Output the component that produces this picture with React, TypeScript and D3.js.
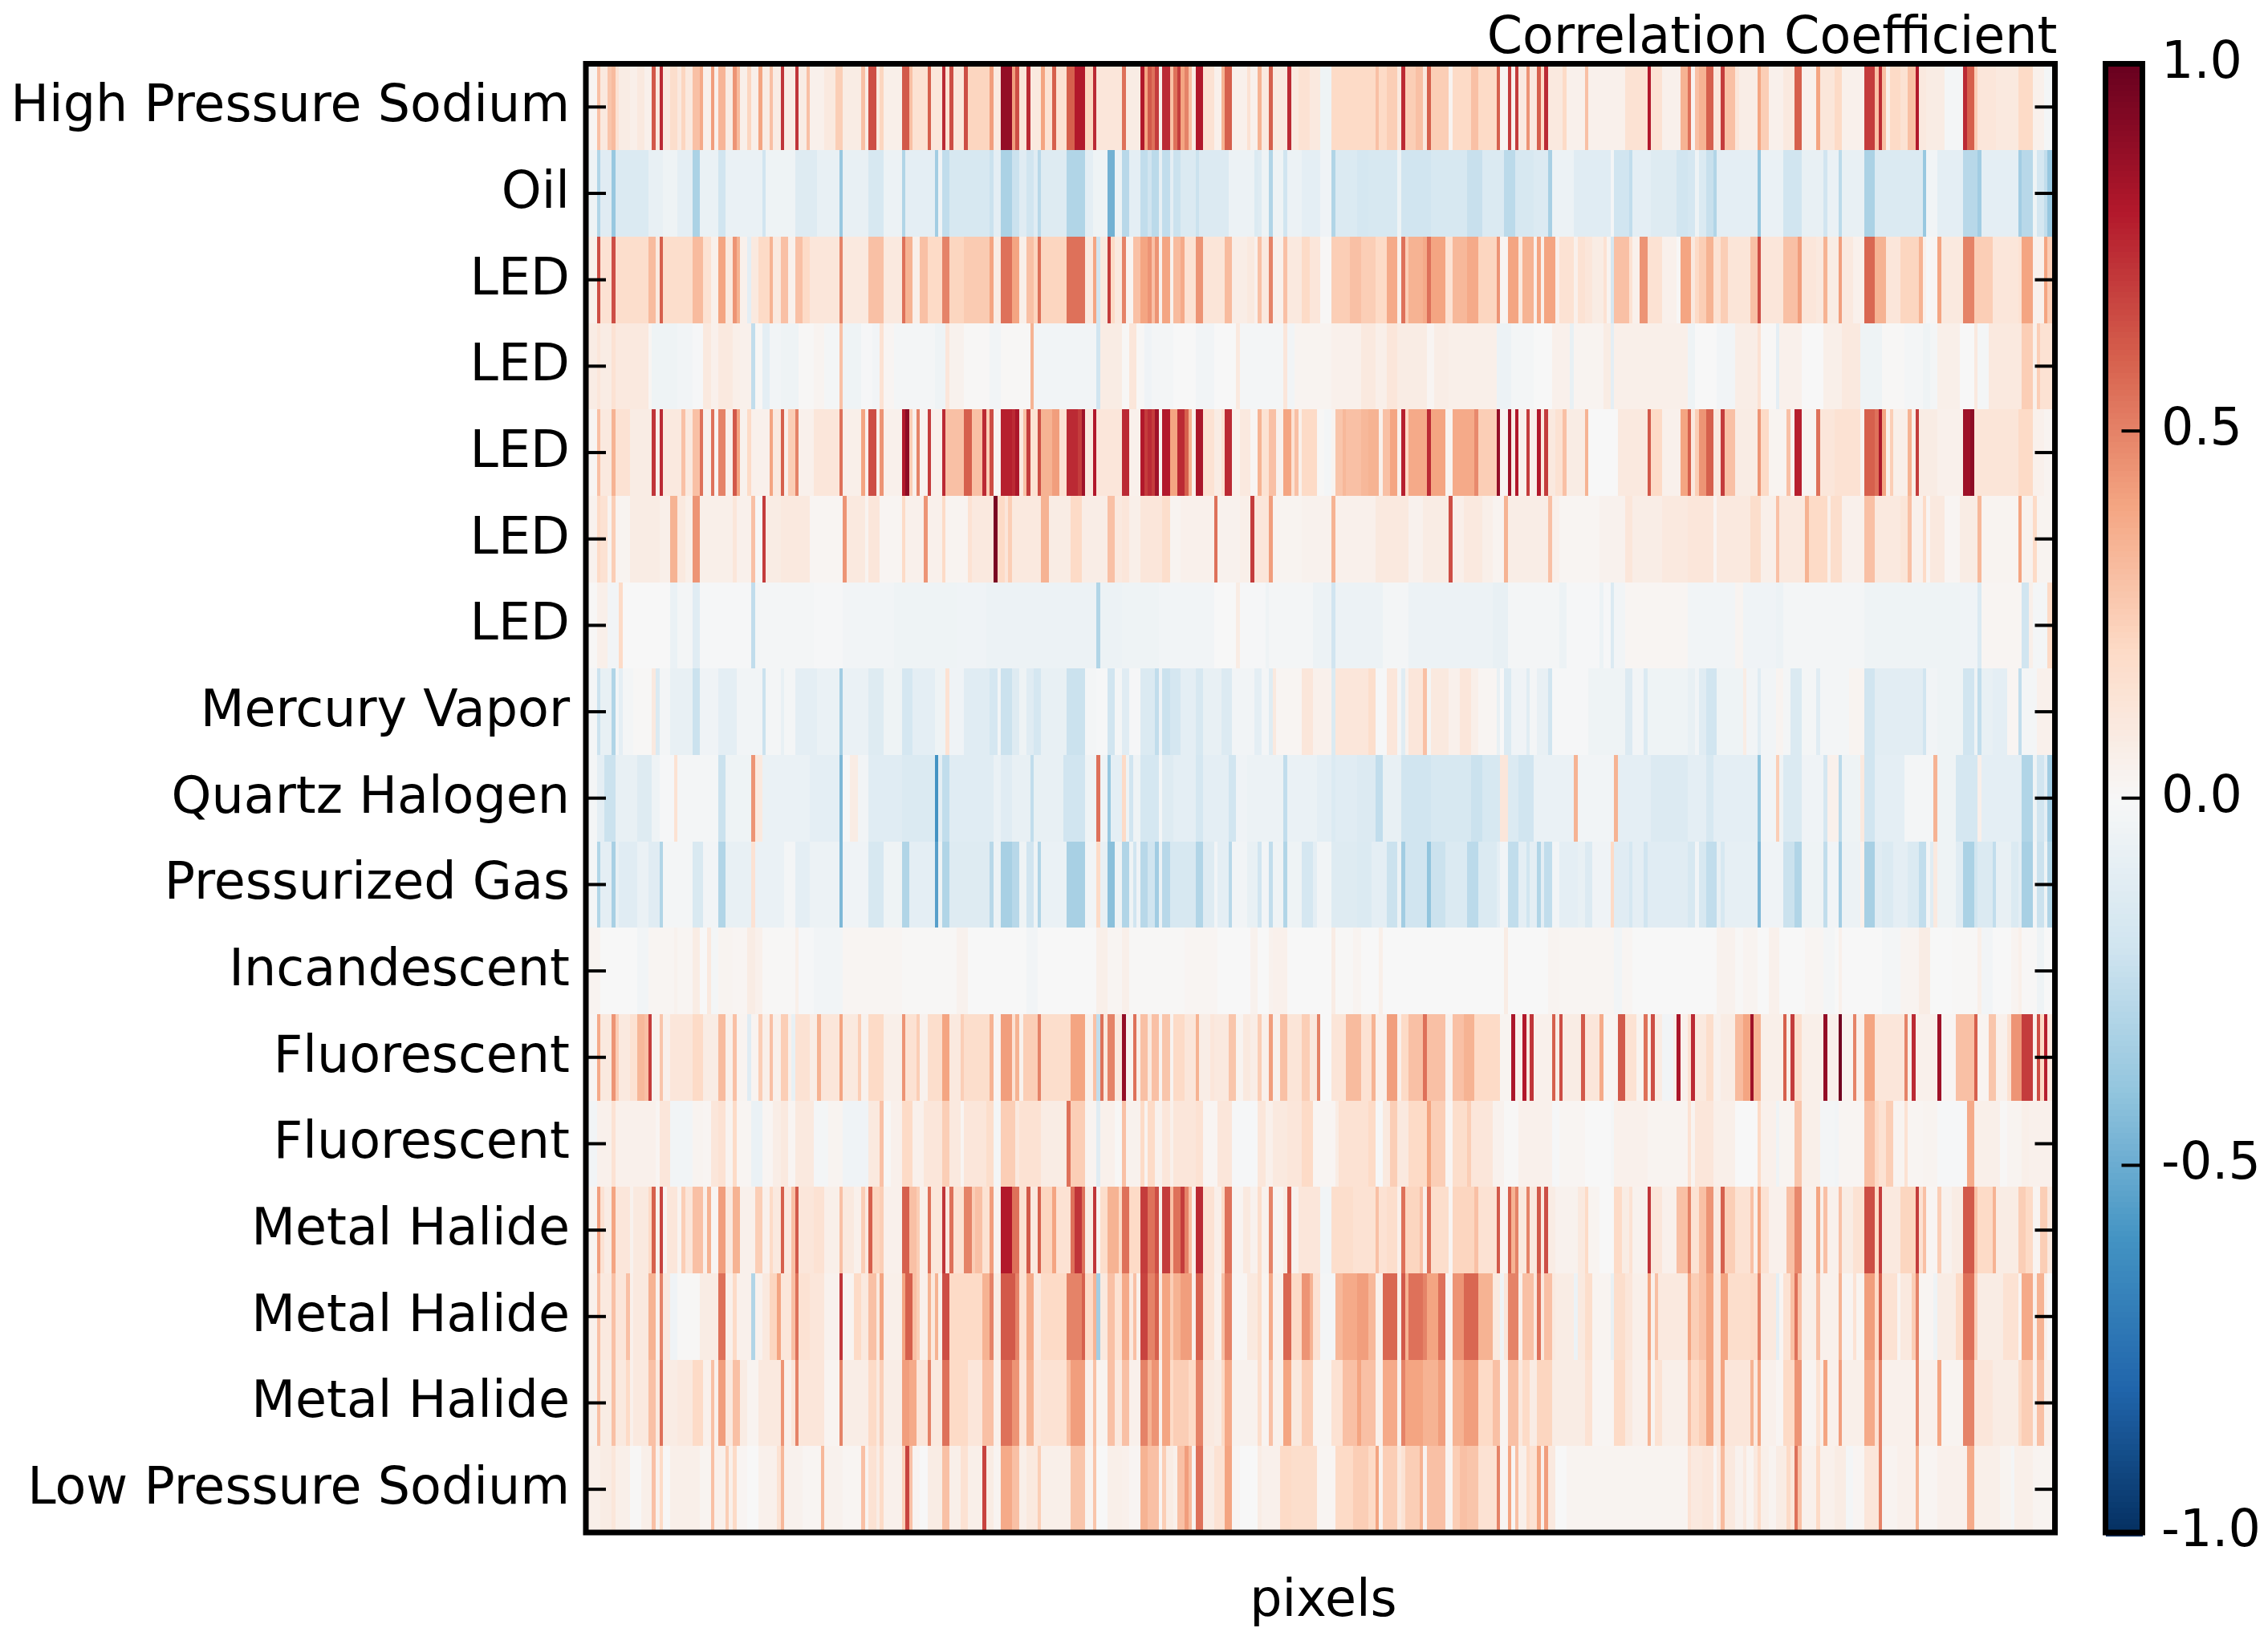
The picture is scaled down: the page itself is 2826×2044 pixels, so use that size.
import React from "react";
import * as d3 from "d3";

// Each row: flat pairs of (first column of a run, correlation x 100).
const highPressureSodium = [0,2,3,30,4,10,6,28,7,32,8,15,9,8,12,6,14,10,16,5,18,62,19,10,20,75,21,10,23,18,25,10,26,22,27,10,29,30,31,38,32,5,34,42,35,5,36,34,38,8,40,45,41,32,42,6,44,22,45,6,47,40,48,8,50,30,51,8,53,72,54,8,57,72,58,8,60,30,61,5,65,10,68,25,70,8,75,30,76,8,77,65,79,10,80,22,81,6,86,62,88,30,89,15,93,60,94,12,97,75,98,15,99,65,100,12,103,65,104,22,110,42,111,10,113,88,116,42,117,65,118,12,120,75,121,10,124,40,125,15,127,60,128,15,131,60,133,80,136,22,138,75,139,12,146,55,147,8,151,80,152,40,153,62,154,55,155,70,156,5,157,75,159,30,160,55,161,70,162,40,163,50,164,30,165,8,166,80,168,15,171,5,173,35,174,60,176,5,180,15,181,5,183,35,184,10,186,60,187,10,191,75,192,10,194,15,197,10,200,-5,203,20,215,30,216,20,218,25,221,10,222,75,223,25,226,30,228,10,229,60,230,25,235,3,236,20,241,30,243,20,248,60,249,2,251,70,252,5,253,70,254,10,256,45,257,10,259,60,260,20,261,75,262,10,266,20,267,5,272,30,273,5,283,15,289,80,290,15,293,5,298,35,300,55,301,3,302,30,303,35,305,60,307,12,309,70,310,30,313,12,314,7,319,40,320,25,322,5,326,10,329,60,331,5,335,40,336,12,340,20,342,5,348,70,351,30,352,75,353,30,354,5,355,20,358,15,360,30,362,80,363,10,365,8,370,-2,375,75,376,60,378,25,379,12,384,10,390,20,394,5,397,-2];
const oil = [0,-5,3,-30,4,-12,7,-38,8,-15,17,-8,21,-5,25,-10,29,-32,31,-7,36,-20,38,-7,48,-20,49,-5,57,-13,63,-8,69,-38,70,-8,77,-17,81,-6,86,-30,87,-10,95,-35,96,-4,97,-25,99,-17,110,-22,111,-10,113,-32,116,-22,118,-12,120,-20,122,-12,123,-28,124,-13,131,-30,136,-10,138,-5,142,-48,144,-6,146,-28,148,-10,151,-25,153,-20,154,-27,156,-8,157,-25,159,-10,160,-22,162,-15,166,-22,167,-14,175,-6,182,-15,183,-13,184,-5,186,-30,187,-5,190,-20,191,-6,195,-10,200,-4,203,-30,204,-15,210,-18,213,-17,221,-5,222,-20,230,-17,240,-23,244,-15,250,-27,253,-17,258,-14,262,-33,263,-6,269,-12,279,-2,280,-20,284,-25,285,-10,290,-13,297,-20,300,-18,302,-5,303,-15,305,-23,307,-30,308,-10,319,-40,320,-7,326,-20,331,-8,337,-20,338,-7,341,-27,342,-8,348,-32,351,-15,364,-38,365,-3,368,-10,375,-28,379,-35,380,-10,390,-35,391,-28,394,-5,395,-18,397,-25,398,-38];
const ledA = [0,5,3,65,4,15,7,65,8,18,17,32,19,10,20,60,21,18,29,32,32,15,34,5,36,40,38,10,40,45,41,35,42,5,44,-10,45,10,47,20,50,35,51,10,53,30,55,5,57,30,59,20,61,12,69,50,70,10,77,30,81,10,86,55,87,35,89,6,91,30,93,20,97,50,99,22,103,26,110,40,111,8,113,55,116,40,118,6,120,30,122,22,123,55,124,22,131,55,136,10,138,40,139,-20,140,10,142,70,143,20,144,10,146,50,147,3,149,30,151,40,153,45,154,30,155,45,156,5,157,40,159,4,160,32,162,38,163,15,166,45,168,13,174,32,176,7,180,10,182,5,183,30,184,10,186,50,187,5,190,30,191,10,195,20,197,12,200,1,203,25,208,30,211,25,215,20,218,38,221,5,222,55,223,25,224,35,228,38,229,55,230,40,234,15,236,33,240,38,243,22,248,45,249,2,251,40,254,10,255,35,258,5,259,40,260,5,261,40,264,5,265,15,269,5,270,15,272,12,274,8,277,15,278,3,279,-18,280,30,284,15,285,5,287,45,289,15,293,5,297,1,298,40,300,40,301,10,302,20,303,25,305,35,307,15,309,25,311,13,317,30,319,65,320,12,326,30,330,42,331,12,335,10,337,35,338,8,341,42,342,10,345,5,348,58,351,35,354,12,358,22,363,35,364,5,365,-1,366,2,368,40,369,10,375,50,378,25,383,12,390,15,391,40,394,5,397,40,398,25];
const ledB = [0,8,3,12,4,8,7,15,8,10,17,2,18,-5,25,-3,29,-1,32,10,34,5,36,10,40,6,42,5,45,-25,46,1,48,-10,50,-3,53,-5,58,1,62,3,65,-2,69,30,70,-5,75,-1,78,-3,80,15,81,2,84,-2,95,-5,98,12,99,4,103,1,110,-3,113,1,121,35,122,-3,139,-20,140,8,146,1,148,12,150,1,152,-4,154,-2,160,0,166,-3,171,0,177,10,178,-2,190,12,191,-3,193,3,203,5,211,10,215,6,218,12,221,8,229,2,231,7,235,6,243,6,248,-6,252,-2,258,0,263,5,268,-8,269,3,277,8,279,-10,280,6,300,-5,302,0,308,-3,313,7,319,15,320,1,324,-10,325,5,331,0,337,6,342,10,347,-5,353,1,359,-2,364,-5,366,-2,368,6,374,0,378,10,379,-2,382,10,391,25,394,5,395,25,396,15];
const ledC = [0,2,3,30,4,10,7,35,8,15,12,8,18,72,19,5,20,75,21,10,26,30,27,10,29,30,31,55,32,4,34,55,35,3,36,50,38,5,40,62,41,40,42,4,44,20,45,5,50,40,51,10,53,60,54,5,55,25,57,50,58,5,62,12,69,55,70,6,75,40,76,5,77,65,79,5,80,45,81,5,86,80,87,90,88,25,89,5,90,50,91,3,93,70,94,5,97,75,98,30,103,60,105,30,108,75,109,25,110,65,111,2,113,78,116,75,117,82,118,10,119,30,120,70,121,15,123,65,124,35,127,42,129,15,131,75,134,70,135,85,136,10,138,80,139,12,146,75,148,5,151,80,152,70,153,75,154,70,155,85,156,3,157,80,159,40,161,75,163,60,164,35,165,5,166,82,168,15,171,8,173,15,174,75,176,5,178,10,181,2,183,35,184,15,186,30,188,4,190,40,192,15,193,30,194,5,195,20,199,1,201,-2,203,3,204,28,206,33,207,30,211,33,213,35,216,5,217,30,219,40,221,5,222,78,223,20,224,38,229,75,230,40,234,3,236,38,242,48,243,25,248,88,249,2,251,85,252,8,253,80,254,5,256,70,257,5,259,80,260,10,261,70,262,10,264,15,266,30,267,8,272,35,273,0,281,10,289,62,290,20,293,5,298,40,300,60,301,10,302,25,303,45,305,60,307,10,309,70,310,30,313,8,319,45,320,20,322,3,327,30,328,3,329,78,331,3,335,55,336,12,340,15,347,3,348,60,351,55,352,82,353,40,354,5,355,25,356,6,360,35,361,6,362,70,363,8,368,5,375,85,377,90,378,13,390,20,394,5,397,3];
const ledD = [0,4,3,20,4,15,6,3,7,25,8,3,12,8,20,6,23,35,25,10,27,6,29,45,31,6,40,12,41,5,45,30,46,1,48,70,49,8,53,10,61,2,70,45,71,10,76,3,77,12,80,2,86,20,87,5,92,45,93,5,97,20,98,3,104,15,105,10,111,95,112,20,114,12,115,25,116,10,124,35,126,8,132,20,135,7,142,30,144,10,146,12,148,6,151,12,157,18,159,3,162,5,171,55,172,4,178,6,181,70,182,12,186,42,187,3,195,4,203,35,204,5,215,10,224,4,228,8,235,65,236,6,239,10,244,6,247,3,250,35,251,7,262,30,263,5,265,2,276,4,283,12,285,7,293,10,300,12,307,2,308,10,317,18,320,6,324,30,325,10,332,35,333,20,338,5,339,18,342,5,348,30,351,10,358,13,360,30,361,5,364,20,365,2,366,10,370,2,374,8,379,33,380,3,390,40,391,4,394,20,395,3];
const ledE = [0,1,3,6,6,-3,9,20,10,0,23,-7,25,-2,29,-12,31,-1,45,-25,46,-2,62,-1,70,-3,84,-5,101,-4,109,-6,139,-30,140,-6,146,-5,156,-3,171,0,177,8,178,-1,185,-5,186,-2,198,-6,203,-20,204,-6,217,-2,224,-6,247,-8,251,-2,265,-6,267,-1,276,-6,277,-1,279,-15,280,-3,283,2,300,-3,313,3,315,-4,324,-6,326,-2,348,-5,374,-4,379,-15,380,2,391,-20,393,6,394,-2,398,20];
const mercuryVapor = [0,-2,3,-22,4,-8,7,-30,8,-2,9,-10,10,-2,13,1,18,10,19,-15,20,-2,23,-8,29,-22,31,-4,36,-10,41,-3,48,-22,49,-2,53,-8,54,-2,57,-10,63,-7,69,-35,70,-7,77,-13,81,-5,86,-18,89,-10,95,-5,98,15,99,-4,103,-12,110,-18,112,-3,113,-22,116,-13,118,-5,120,-12,122,-18,124,-8,131,-22,136,-2,139,-1,142,-20,144,-2,146,-12,148,-1,151,-15,155,-25,156,-4,157,-22,159,-18,162,-10,166,-17,168,-8,173,-14,176,-3,182,-10,184,-2,186,-12,187,10,188,2,195,12,198,5,203,-15,204,12,213,18,215,-1,218,12,221,-2,222,-12,223,4,224,12,228,30,229,-2,230,10,235,5,238,12,241,6,243,2,248,-8,249,0,250,-15,252,-4,256,-12,257,-2,259,-8,262,-20,263,-1,273,-5,283,-14,285,-3,288,-15,289,-5,300,-8,302,-3,303,-12,305,-20,308,-5,315,8,316,-3,319,-12,320,-3,324,3,326,-2,328,-15,331,-2,335,-12,336,-2,344,3,348,-20,351,-11,364,-20,365,-3,368,-5,375,-20,378,-5,379,-25,380,-8,383,-10,387,2,390,-25,391,-2,395,5];
const quartzHalogen = [0,-2,3,-10,5,-22,8,-8,14,-13,18,-5,20,-1,24,15,25,-2,36,-22,38,-5,45,45,46,10,48,-7,61,-10,69,-45,70,-1,72,8,74,-3,77,-12,86,-15,95,-60,96,-10,97,-25,99,-12,111,-7,113,-12,116,-8,121,-25,122,-8,130,-20,136,-5,139,55,140,-5,142,-38,143,-10,146,20,147,-5,148,-20,149,-5,151,-18,156,-2,157,-13,160,-10,166,-18,168,-10,175,-20,177,-4,180,-6,190,-25,191,-7,199,-10,203,-15,204,-12,210,-14,215,-25,217,-8,222,-20,230,-17,241,-22,244,-17,249,12,251,-15,254,-20,258,-7,269,35,270,-3,280,35,281,-10,290,-14,300,-10,305,-17,307,-10,319,-40,320,-3,324,25,325,-5,326,-15,331,-4,337,-18,338,5,341,-27,342,-5,347,10,348,-20,351,-10,359,-2,367,35,368,-5,373,-18,379,6,380,-10,391,-30,394,-5,395,-20,397,-10,398,-35];
const pressurizedGas = [0,-2,3,-30,4,-10,7,-33,8,-8,9,-12,14,-7,17,-12,20,-30,21,-2,29,-16,32,-3,36,-30,38,-8,45,15,46,-7,54,-2,57,-10,61,-6,69,-45,70,-4,77,-17,81,-5,86,-30,88,-10,95,-55,96,-5,97,-30,99,-13,110,-28,111,-6,113,-33,116,-28,118,-5,120,-20,122,-5,123,-30,124,-7,131,-33,136,-3,139,20,140,-8,142,-42,144,-5,146,-30,148,-5,149,-20,150,-4,151,-28,153,-20,155,-35,156,-6,157,-28,159,-17,166,-30,168,-13,171,-3,172,-10,175,-28,176,-3,180,-8,183,-20,184,-3,186,-25,187,-5,190,-30,191,-5,195,-18,198,-10,199,-3,203,-13,210,-15,214,-10,218,-22,221,-6,222,-35,223,-20,229,-40,230,-22,234,-15,240,-27,243,-15,248,-10,249,-3,251,-25,254,-10,256,-20,257,-10,259,-30,260,-10,261,-25,263,-3,265,-10,270,-8,272,-14,274,-4,279,20,280,-12,284,-18,285,-10,288,-20,289,-12,300,-17,302,-3,303,-17,305,-25,308,-8,309,-17,310,-9,319,-45,320,-4,326,-22,329,-30,331,-5,337,-25,338,-3,341,-35,342,-6,347,5,348,-33,351,-12,353,-15,356,-10,360,-15,363,-25,365,-2,366,-12,367,10,368,-5,373,-12,375,-32,378,-20,379,-15,383,-25,384,-8,388,-15,390,-10,391,-33,394,-3,395,-22,397,-5,398,-30];
const incandescent = [0,3,4,0,14,-3,17,2,24,4,25,2,29,8,31,0,33,10,34,-2,36,3,40,2,44,8,46,5,48,1,57,6,58,-1,62,-3,70,2,86,1,101,4,104,0,120,-3,123,0,139,6,142,2,146,6,148,1,163,2,172,0,181,4,183,0,186,4,187,5,191,0,203,8,204,1,209,3,211,0,216,6,217,0,250,8,251,0,262,3,265,2,280,-3,282,2,285,0,300,0,308,4,313,1,315,3,319,0,322,5,325,0,332,2,337,-2,340,0,341,5,342,0,353,-2,358,3,363,8,366,0,372,1,379,6,380,-3,383,0,388,3,390,6,391,1,395,-5,397,0];
const fluorescentA = [0,2,3,38,4,10,7,45,8,25,9,10,12,15,14,33,16,30,17,70,18,4,20,28,21,5,23,12,29,20,32,8,36,32,38,5,40,30,41,3,44,-12,45,3,47,25,48,6,50,30,51,5,53,25,55,5,56,-8,57,15,61,7,63,35,64,12,69,40,70,10,74,25,75,4,77,20,81,6,86,45,87,15,90,25,91,4,93,18,97,40,99,10,102,25,103,18,110,35,111,2,113,42,116,15,117,35,118,4,119,25,123,50,124,18,132,40,136,5,138,30,139,-25,140,55,141,10,142,50,144,10,146,88,147,3,149,55,150,6,151,30,153,10,154,30,156,3,157,28,159,3,160,20,163,12,166,35,167,7,170,12,171,10,175,28,177,3,179,10,181,7,183,25,184,5,186,42,187,4,189,30,191,13,195,25,197,10,199,50,200,0,203,13,207,32,211,15,214,35,215,5,218,42,221,5,222,20,224,30,228,55,229,30,234,4,236,30,239,35,242,20,248,20,249,3,252,82,253,5,255,80,256,10,257,72,258,5,263,60,264,8,265,65,266,8,271,62,272,12,276,38,277,2,281,62,283,15,286,3,288,55,289,5,290,65,291,8,293,-3,296,6,297,82,298,5,300,15,301,75,302,10,305,18,307,4,309,8,313,32,315,40,317,85,318,35,320,6,326,60,327,6,328,70,329,18,331,6,337,88,338,5,341,97,342,3,345,50,346,5,348,40,351,12,359,50,360,5,361,75,362,5,368,85,369,2,373,30,378,60,379,3,382,28,384,5,387,15,388,45,391,70,394,5,395,65,396,20,397,78,398,10];
const fluorescentB = [0,-3,3,5,7,15,8,5,19,2,20,12,23,-3,29,3,32,2,34,12,36,15,38,3,40,20,41,2,45,-7,48,2,51,7,53,10,55,2,57,10,62,-2,66,3,70,-4,77,10,80,30,81,1,83,5,86,20,89,5,92,12,97,25,99,10,102,2,103,12,109,18,111,-2,113,25,117,10,118,15,124,8,131,55,132,25,136,3,139,-12,140,5,144,1,146,30,147,4,151,20,152,3,153,20,155,4,157,12,159,5,160,12,166,15,168,2,172,12,176,-1,183,12,185,5,187,10,191,12,195,20,198,2,204,8,205,15,213,20,215,-1,217,10,219,25,221,10,224,20,229,40,230,25,234,2,236,18,240,25,241,12,247,4,250,1,254,5,263,-1,265,2,272,0,279,-2,280,5,289,3,300,15,301,3,302,12,307,6,313,0,319,20,320,5,324,-5,325,3,329,28,331,6,336,-2,340,-3,341,2,348,30,351,20,352,15,354,25,356,3,359,15,360,2,364,3,368,-1,376,38,378,6,385,1,387,3,391,6,393,5];
const metalHalideA = [0,3,3,42,4,15,5,8,7,40,8,12,12,4,13,10,17,20,18,60,19,4,20,68,21,2,22,12,25,3,26,25,27,12,29,30,32,5,33,35,34,2,36,42,38,10,40,35,42,5,46,25,48,5,50,20,51,10,53,60,54,10,56,30,57,62,58,12,62,15,65,6,69,30,70,10,73,5,75,25,76,10,77,60,78,22,80,25,81,5,86,60,88,30,90,25,91,5,93,55,94,12,97,72,98,10,99,55,100,15,103,50,105,25,106,30,108,15,110,42,111,3,113,80,116,55,118,15,120,62,121,10,123,60,124,22,127,40,128,15,132,55,133,72,135,55,136,8,138,72,139,2,140,18,142,35,145,20,146,55,148,20,151,70,153,55,155,65,156,5,157,70,159,30,160,55,162,70,163,50,164,30,165,5,166,75,168,15,171,6,173,20,174,55,176,3,179,10,181,4,183,18,184,4,186,50,187,3,190,8,191,62,192,4,194,12,200,-3,203,18,209,15,215,30,216,15,218,18,221,5,222,55,223,22,227,30,228,5,229,55,230,18,235,2,236,22,242,30,243,15,248,62,249,2,251,60,252,35,253,50,254,10,256,50,257,10,259,62,260,10,261,65,262,8,264,4,270,10,272,20,273,3,276,0,280,20,282,8,284,15,285,4,289,72,290,12,293,5,297,30,300,50,301,15,303,30,305,45,307,10,309,60,310,25,313,15,317,30,318,5,319,40,320,15,322,5,327,30,329,48,331,5,335,40,336,5,337,30,338,5,341,30,342,8,345,15,348,65,351,20,352,70,353,10,358,22,362,70,363,15,364,30,365,2,368,25,369,4,372,8,375,62,378,30,379,20,383,35,384,8,390,25,392,20,394,3,396,25,398,10];
const metalHalideB = [0,5,3,30,4,10,7,30,8,12,11,30,12,5,13,10,17,35,19,4,20,50,21,10,23,-4,25,1,31,8,36,55,38,5,40,20,41,5,45,-30,46,4,48,10,50,22,52,40,53,12,56,30,57,55,58,15,61,12,65,4,69,72,70,3,73,20,75,10,77,30,79,10,80,40,81,6,86,40,87,60,89,30,90,25,91,5,93,35,94,10,95,35,96,5,97,65,99,20,108,35,110,50,111,8,113,62,117,50,118,15,120,38,122,10,124,20,131,50,135,60,136,20,138,35,139,-35,140,10,142,30,144,15,146,38,148,10,149,30,150,5,151,68,153,50,155,60,156,10,157,40,159,25,160,35,162,42,165,5,166,60,168,15,171,5,173,30,174,50,176,2,180,10,183,18,184,3,186,38,187,5,190,58,192,20,195,45,197,35,198,15,200,-2,204,33,206,38,210,42,213,33,215,5,217,58,221,5,222,62,223,35,224,55,228,50,229,40,232,55,234,3,236,45,239,58,243,35,247,10,249,-5,250,12,251,50,254,5,255,30,258,10,259,55,260,10,261,30,263,10,264,8,269,-6,270,10,272,18,274,3,279,-8,280,18,283,12,285,6,289,40,290,5,291,30,292,10,300,40,301,25,303,30,305,40,307,12,309,40,311,18,317,20,319,50,320,10,324,-10,325,2,326,15,328,30,329,55,330,30,331,6,335,30,336,5,341,35,342,3,345,15,346,3,348,42,351,20,352,60,353,15,357,2,358,10,361,25,362,50,363,2,367,-5,368,8,373,20,375,55,378,25,379,8,386,15,390,2,391,38,394,5,395,35,397,5,398,0];
const metalHalideC = [0,4,3,30,4,8,7,30,8,10,11,20,12,5,13,10,17,30,19,10,20,55,21,8,25,10,29,20,32,5,34,30,35,5,36,42,38,10,40,30,42,8,44,3,47,10,53,45,54,5,56,12,57,50,58,12,65,3,69,50,70,7,77,20,79,10,80,25,81,7,86,42,88,38,90,12,93,50,94,10,97,55,99,20,104,12,108,30,111,5,113,55,116,45,118,12,120,35,122,12,124,15,131,30,132,42,136,5,138,30,139,3,142,30,144,10,146,30,148,5,151,50,153,35,154,45,156,5,157,40,159,20,160,25,164,20,166,50,168,10,171,8,173,20,174,38,176,4,183,18,184,3,186,30,187,5,190,40,192,10,195,25,198,3,203,15,206,30,210,40,211,30,215,5,217,38,221,5,222,50,223,40,228,35,232,42,234,3,236,35,239,42,243,20,247,30,249,3,251,30,254,10,255,20,257,8,259,22,263,8,272,15,274,2,280,20,283,10,285,5,289,35,290,3,291,15,293,6,300,30,301,20,303,25,305,40,307,12,309,40,310,12,317,35,318,10,319,40,320,5,324,2,326,20,329,45,331,3,335,15,336,5,337,40,338,5,341,42,342,6,348,38,351,15,352,50,353,5,362,48,363,5,368,40,369,3,375,50,378,12,383,8,390,20,391,25,394,5,395,30,397,5];
const lowPressureSodium = [0,6,4,8,7,12,8,6,12,1,15,6,18,30,19,4,20,20,21,1,23,6,31,3,34,30,35,5,38,25,39,5,40,20,41,2,44,0,47,5,52,15,53,33,54,4,59,2,64,33,65,4,70,2,75,30,76,3,77,15,79,8,80,20,81,5,86,25,87,68,88,30,89,3,91,0,93,8,97,30,99,6,102,15,104,6,108,68,109,8,111,3,113,38,116,30,118,6,120,10,123,25,124,6,132,28,136,3,138,28,139,0,142,6,146,5,148,2,151,35,153,30,156,2,157,25,158,8,160,5,161,30,163,42,164,32,165,3,166,55,168,8,171,15,174,40,176,2,178,0,183,8,184,5,189,20,192,18,199,2,204,20,209,25,213,20,215,40,216,3,217,25,221,10,222,15,223,25,227,35,228,3,229,30,234,3,236,25,238,30,240,28,243,15,248,50,249,2,251,40,252,2,253,30,254,6,256,20,257,15,259,40,260,5,261,42,262,10,264,0,267,3,300,15,301,10,304,12,307,2,308,10,309,32,310,10,313,4,315,10,316,3,318,10,319,20,320,6,322,3,324,8,327,20,328,12,329,55,330,30,331,5,335,20,336,5,340,8,343,-2,345,2,348,12,352,50,353,3,357,5,362,35,363,2,368,5,376,38,378,6,385,3,388,-2,389,6,394,3];

const rowRuns = [highPressureSodium, oil, ledA, ledB, ledC, ledD, ledE, mercuryVapor, quartzHalogen, pressurizedGas, incandescent, fluorescentA, fluorescentB, metalHalideA, metalHalideB, metalHalideC, lowPressureSodium];
const rowLabels = ["High Pressure Sodium", "Oil", "LED", "LED", "LED", "LED", "LED", "Mercury Vapor", "Quartz Halogen", "Pressurized Gas", "Incandescent", "Fluorescent", "Fluorescent", "Metal Halide", "Metal Halide", "Metal Halide", "Low Pressure Sodium"];
const colorbarTicks = [-1, -0.5, 0, 0.5, 1];
const COLS = 400;
const rdbuStops = ["#053061", "#2166ac", "#4393c3", "#92c5de", "#d1e5f0", "#f7f7f7", "#fddbc7", "#f4a582", "#d6604d", "#b2182b", "#67001f"];

function expand(run: number[]): number[] {
  const out: number[] = new Array(COLS).fill(0);
  for (let i = 0; i < run.length; i += 2) {
    const end = i + 2 < run.length ? run[i + 2] : COLS;
    for (let c = run[i]; c < end; c++) out[c] = run[i + 1] / 100;
  }
  return out;
}

const W = 2826, H = 2044;
const L = 730, R = 2560.5, T = 79.5, B = 1910;
const CL = 2623.5, CR = 2669.5;
const FONT = "'DejaVu Sans'";
const FS = 63.5;

export default function App() {
  const x = d3.scaleBand<number>().domain(d3.range(COLS)).range([L, R]);
  const y = d3.scaleBand<number>().domain(d3.range(rowRuns.length)).range([T, B]);
  const color = d3.scaleLinear<string>().domain(d3.range(11).map((i) => -1 + i * 0.2)).range(rdbuStops).interpolate(d3.interpolateRgb);
  const cb = d3.scaleLinear().domain([-1, 1]).range([B, T]);
  const grid = rowRuns.map(expand);
  const levels = d3.range(256).map((i) => -1 + (2 * i) / 255);
  return (
    <svg width={W} height={H} viewBox={`0 0 ${W} ${H}`} style={{ position: "absolute", left: 0, top: 0, display: "block", background: "#fff" }} fontFamily={FONT}>
      <g shapeRendering="crispEdges">
        {grid.map((row, r) => row.map((v, c) => (
          <rect key={`${r}-${c}`} x={x(c)} y={y(r)} width={x.bandwidth() + 0.6} height={y.bandwidth() + 0.6} fill={color(v)} />
        )))}
      </g>
      {rowLabels.map((label, r) => {
        const cy = (y(r) as number) + y.bandwidth() / 2;
        return (
          <g key={r}>
            <line x1={L} x2={L + 25} y1={cy} y2={cy} stroke="#000" strokeWidth={4} />
            <line x1={R - 25} x2={R} y1={cy} y2={cy} stroke="#000" strokeWidth={4} />
            <text x={710} y={cy + 18} textAnchor="end" fontSize={FS} fill="#000">{label}</text>
          </g>
        );
      })}
      <rect x={L} y={T} width={R - L} height={B - T} fill="none" stroke="#000" strokeWidth={7} />
      <text x={R + 3} y={66} textAnchor="end" fontSize={FS} fill="#000">Correlation Coefficient</text>
      <text x={1649} y={2014} textAnchor="middle" fontSize={FS} fill="#000">pixels</text>
      <g shapeRendering="crispEdges">
        {levels.map((v, i) => (
          <rect key={i} x={CL} y={cb(v) - (B - T) / 255 / 2} width={CR - CL} height={(B - T) / 255 + 1} fill={color(v)} />
        ))}
      </g>
      <rect x={CL} y={T} width={CR - CL} height={B - T} fill="none" stroke="#000" strokeWidth={7} />
      {colorbarTicks.map((t) => (
        <g key={t}>
          <line x1={CR - 26} x2={CR} y1={cb(t)} y2={cb(t)} stroke="#000" strokeWidth={4} />
          <text x={2693} y={cb(t) + 17} fontSize={FS} fill="#000">{t.toFixed(1)}</text>
        </g>
      ))}
    </svg>
  );
}
